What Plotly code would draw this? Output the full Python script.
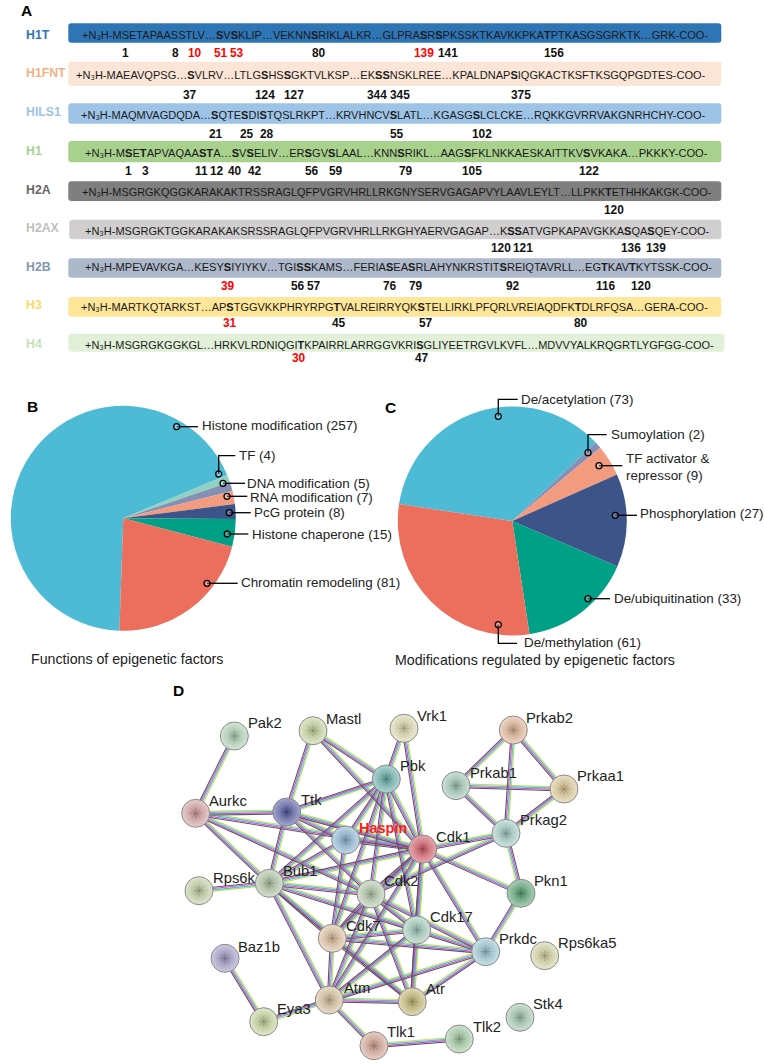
import re
import plotly.graph_objects as go

FONT = "Liberation Sans"
W, H = 764, 1064

# ---------- Panel A data ----------
histones = ["H1T", "H1FNT", "HILS1", "H1", "H2A", "H2AX", "H2B", "H3", "H4"]
sequences = [
    "+N₃H-MSETAPAASSTLV…[S]V[S]KLIP…VEKNN[S]RIKLALKR…GLPRA[S]R[S]PKSSKTKAVKKPKA[T]PTKASGSGRKTK…GRK-COO-",
    "+N₃H-MAEAVQPSG…[S]VLRV…LTLG[S]HS[S]GKTVLKSP…EK[SS]NSKLREE…KPALDNAP[S]IQGKACTKSFTKSGQPGDTES-COO-",
    "+N₃H-MAQMVAGDQDA…[S]QTE[S]DI[S]TQSLRKPT…KRVHNCV[S]LATL…KGASG[S]LCLCKE…RQKKGVRRVAKGNRHCHY-COO-",
    "+N₃H-M[S]E[T]APVAQAA[ST]A…[S]V[S]ELIV…ER[S]GV[S]LAAL…KNN[S]RIKL…AAG[S]FKLNKKAESKAITTKV[S]VKAKA…PKKKY-COO-",
    "+N₃H-MSGRGKQGGKARAKAKTRSSRAGLQFPVGRVHRLLRKGNYSERVGAGAPVYLAAVLEYLT…LLPKK[T]ETHHKAKGK-COO-",
    "+N₃H-MSGRGKTGGKARAKAKSRSSRAGLQFPVGRVHRLLRKGHYAERVGAGAP…K[SS]ATVGPKAPAVGKKA[S]QA[S]QEY-COO-",
    "+N₃H-MPEVAVKGA…KESY[S]IYIYKV…TGI[SS]KAMS…FERIA[S]EA[S]RLAHYNKRSTIT[S]REIQTAVRLL…EG[T]KAV[T]KYTSSK-COO-",
    "+N₃H-MARTKQTARKST…AP[S]TGGVKKPHRYRPG[T]VALREIRRYQK[S]TELLIRKLPFQRLVREIAQDFK[T]DLRFQSA…GERA-COO-",
    "+N₃H-MSGRGKGGKGL…HRKVLRDNIQGI[T]KPAIRRLARRGGVKRI[S]GLIYEETRGVLKVFL…MDVVYALKRQGRTLYGFGG-COO-",
]
bar_colors = ["#2E75B6", "#FBE5D6", "#9DC3E6", "#A9D18E", "#7F7F7F", "#D0CECE", "#ADB9CA", "#FFE699", "#E2F0D9"]
name_colors = ["#2E75B6", "#F4B183", "#9DC3E6", "#A9D18E", "#666666", "#BFBFBF", "#8497B0", "#FFD966", "#C5E0B4"]
bar_x0 = [68.3, 68.3, 68.3, 68.3, 68.3, 69.3, 68.3, 68.3, 68.3]
bar_x1 = [721.3, 721.3, 721.3, 721.3, 721.3, 721.3, 721.3, 721.3, 724.3]
bar_y0 = [23.3, 61.7, 103.3, 141, 181.3, 219.7, 258.3, 297, 333.7]
bar_y1 = [42.7, 86, 123.7, 162.3, 201, 239.3, 277.7, 316.7, 351.7]
name_y = [35, 72.5, 112, 151, 190, 228, 267, 305, 344]
seq_x0 = [82, 75.7, 81, 84.7, 81.7, 84.7, 84.7, 81.3, 84.7]
seq_x1 = [712, 708, 709, 709, 713.7, 714, 716, 711, 716]
seq_y = [35, 74.7, 115, 153, 191.5, 230.5, 267, 307, 344.5]

site_labels = [
    ["1", "8", "10", "51", "53", "80", "139", "141", "156"],
    ["37", "124", "127", "344", "345", "375"],
    ["21", "25", "28", "55", "102"],
    ["1", "3", "11", "12", "40", "42", "56", "59", "79", "105", "122"],
    ["120"],
    ["120", "121", "136", "139"],
    ["39", "56", "57", "76", "79", "92", "116", "120"],
    ["31", "45", "57", "80"],
    ["30", "47"],
]
site_x = [
    [125, 175, 195, 220.5, 237, 319, 423.7, 448, 554],
    [190, 265, 293.5, 377, 399.7, 521],
    [216, 247, 267, 397, 482],
    [128, 145, 201.5, 217, 235, 254.5, 312, 335.5, 406, 472, 589],
    [614],
    [501, 523, 631, 656],
    [228.3, 298, 314, 390, 416, 513, 605.7, 641],
    [230, 339, 426, 581],
    [299, 422],
]
site_y = [52.5, 95, 133.5, 171, 210, 248, 285.7, 322.7, 357.7]
red_sites = {(0, "10"), (0, "51"), (0, "53"), (0, "139"), (6, "39"), (7, "31"), (8, "30")}

# ---------- Panels B, C data ----------
b_labels = ["Histone modification", "TF", "DNA modification", "RNA modification", "PcG protein", "Histone chaperone", "Chromatin remodeling"]
b_values = [257, 4, 5, 7, 8, 15, 81]
b_colors = ["#4DBBD5", "#91D1C2", "#8491B4", "#F39B7F", "#3C5488", "#00A087", "#EC6F5E"]
c_labels = ["De/acetylation", "Sumoylation", "TF activator &<br>repressor", "Phosphorylation", "De/ubiquitination", "De/methylation"]
c_values = [73, 2, 9, 27, 33, 61]
c_colors = ["#4DBBD5", "#8491B4", "#F39B7F", "#3C5488", "#00A087", "#EC6F5E"]

b_text_x = [202.3, 238.7, 247.3, 250.3, 254, 251.7, 241.3]
b_text_y = [425.7, 455.7, 483.7, 497.3, 512.7, 534, 582.7]
b_leaders = [
    [(176.7, 426.7), (198, 426.7)],
    [(218.7, 474), (218.7, 455.7), (235.3, 455.7)],
    [(223, 483.3), (245, 483.3)],
    [(227, 496.3), (247.3, 496.3)],
    [(229.3, 512.7), (250.7, 512.7)],
    [(227.3, 534), (248.3, 534)],
    [(207, 583.3), (237.7, 583.3)],
]
c_text_x = [520.7, 610.7, 626.3, 640.3, 614, 524.3]
c_text_y = [399.3, 434.7, 467, 513.7, 598.3, 642.7]
c_leaders = [
    [(498.3, 416.3), (498.3, 399.3), (517.7, 399.3)],
    [(588, 452.7), (588, 434.7), (606.7, 434.7)],
    [(599, 465.7), (622.3, 465.7)],
    [(615.3, 515.3), (637, 515.3)],
    [(588, 598.7), (610, 598.7)],
    [(498.3, 624.7), (498.3, 643.3), (517, 643.3)],
]

# ---------- Panel D data ----------
node_names = ["Pak2", "Mastl", "Vrk1", "Pbk", "Aurkc", "Ttk", "Haspin", "Cdk1", "Bub1", "Rps6k", "Baz1b", "Cdk7",
              "Atm", "Eya3", "Tlk1", "Cdk2", "Cdk17", "Atr", "Prkdc", "Pkn1", "Rps6ka5", "Stk4", "Tlk2",
              "Prkab2", "Prkab1", "Prkaa1", "Prkag2"]
node_x = [234.3, 313, 404, 386.3, 195.7, 286.7, 345.7, 422.7, 269.3, 199, 225, 332.3,
          329.3, 263.7, 374, 371, 416.7, 412.3, 485.7, 521, 544.7, 520, 459.3,
          513.3, 456, 564, 506]
node_y = [736, 730.7, 728.3, 779, 813.3, 812, 840, 849, 883.3, 890.7, 958.3, 938.3,
          1000, 1021.7, 1045.7, 894, 930, 1001.7, 951.7, 893.3, 955.7, 1017.3, 1039,
          730, 785.7, 789, 833.3]
label_x = [247.7, 326, 417.3, 400, 209, 301, 359.3, 435.7, 283.3, 212.7, 238.3, 345.7,
           344, 277.3, 387.3, 384, 430, 425.7, 499.3, 534.3, 558.3, 533.3, 472.7,
           526.3, 470, 577, 520]
label_y = [723, 719, 715.7, 766, 800.7, 800, 827.7, 836.7, 871, 878.3, 946.7, 926,
           987.7, 1009.3, 1032.3, 880.7, 917.3, 989, 939, 880.7, 943.3, 1004, 1026.7,
           717.7, 773.3, 776, 820]
node_colors = ["#B5D5B8", "#C9D8A2", "#E0DDB0", "#6DB5B0", "#D9A3A3", "#5A5FA8", "#90BAD8", "#D9626E", "#B4C9A8",
               "#C5D4A8", "#A8A0CC", "#E3C3A3", "#D9C4A0", "#C9D89E", "#D9A898", "#B9CEB0", "#A8D0C0", "#C9BC78",
               "#A0CCD8", "#5FA878", "#D8D8A8", "#A8CCB4", "#A8D0A8", "#E5B898", "#A5CCBC", "#E0CC98", "#A8D0C8"]
edges = [
    ("Pak2", "Aurkc"), ("Mastl", "Ttk"), ("Mastl", "Pbk"), ("Mastl", "Cdk1"), ("Vrk1", "Pbk"), ("Vrk1", "Cdk1"),
    ("Pbk", "Ttk"), ("Pbk", "Haspin"), ("Pbk", "Cdk1"), ("Pbk", "Bub1"), ("Pbk", "Cdk2"), ("Pbk", "Cdk17"), ("Pbk", "Cdk7"),
    ("Aurkc", "Ttk"), ("Aurkc", "Cdk1"), ("Aurkc", "Bub1"), ("Aurkc", "Cdk2"),
    ("Ttk", "Haspin"), ("Ttk", "Cdk1"), ("Ttk", "Bub1"), ("Ttk", "Cdk2"),
    ("Haspin", "Cdk1"), ("Haspin", "Bub1"), ("Haspin", "Cdk7"),
    ("Cdk1", "Bub1"), ("Cdk1", "Cdk2"), ("Cdk1", "Cdk7"), ("Cdk1", "Cdk17"), ("Cdk1", "Prkdc"), ("Cdk1", "Pkn1"),
    ("Cdk1", "Atm"), ("Cdk1", "Atr"), ("Cdk1", "Prkag2"),
    ("Bub1", "Rps6k"), ("Bub1", "Cdk2"), ("Bub1", "Cdk7"), ("Bub1", "Cdk17"), ("Bub1", "Atm"), ("Bub1", "Atr"),
    ("Cdk2", "Cdk7"), ("Cdk2", "Cdk17"), ("Cdk2", "Atm"), ("Cdk2", "Atr"), ("Cdk2", "Prkdc"), ("Cdk2", "Prkag2"),
    ("Cdk7", "Cdk17"), ("Cdk7", "Atm"), ("Cdk7", "Atr"), ("Cdk7", "Prkdc"),
    ("Cdk17", "Atr"), ("Cdk17", "Prkdc"), ("Cdk17", "Atm"),
    ("Atm", "Atr"), ("Atm", "Prkdc"), ("Atm", "Eya3"), ("Atm", "Tlk1"), ("Atr", "Prkdc"),
    ("Baz1b", "Eya3"), ("Tlk1", "Tlk2"), ("Pkn1", "Prkdc"), ("Pkn1", "Prkag2"),
    ("Prkab2", "Prkab1"), ("Prkab2", "Prkaa1"), ("Prkab2", "Prkag2"),
    ("Prkab1", "Prkaa1"), ("Prkab1", "Prkag2"), ("Prkaa1", "Prkag2"),
]
edge_colors = ["#C8DC4A", "#45C4DC", "#D84FD0", "#5A5A5A"]
edge_offsets = [-1.95, -0.65, 0.65, 1.95]

# ---------- Helpers ----------
EM = dict(A=.667, B=.667, C=.722, D=.722, E=.667, F=.611, G=.778, H=.722, I=.278, J=.5, K=.667, L=.556, M=.833,
          N=.722, O=.778, P=.667, Q=.778, R=.722, S=.667, T=.611, U=.722, V=.667, W=.944, X=.667, Y=.667, Z=.611)
EM.update({"+": .584, "-": .333, "…": 1.0, "₃": .36})


def em_width(seq):
    return sum(EM[c] for c in seq if c not in "[]")


def markup(seq):
    return re.sub(r"\[([ST]+)\]", r"<b>\1</b>", seq)


def rounded(x0, y0, x1, y1, r):
    return (f"M{x0+r},{y0} L{x1-r},{y0} Q{x1},{y0} {x1},{y0+r} L{x1},{y1-r} Q{x1},{y1} {x1-r},{y1} "
            f"L{x0+r},{y1} Q{x0},{y1} {x0},{y1-r} L{x0},{y0+r} Q{x0},{y0} {x0+r},{y0} Z")


def shade(hex_color, f):
    rgb = [int(hex_color[i:i + 2], 16) for i in (1, 3, 5)]
    if f < 1:
        rgb = [int(c * f) for c in rgb]
    else:
        rgb = [int(c + (255 - c) * (f - 1)) for c in rgb]
    return "#%02X%02X%02X" % tuple(rgb)


annotations = []
shapes = []


def text(x, y, s, size, color="#1A1A1A", anchor="left", bold=False):
    annotations.append(dict(
        x=x - 1 if anchor == "left" else x, y=y, xref="x", yref="y", text=f"<b>{s}</b>" if bold else s, showarrow=False,
        xanchor=anchor, yanchor="middle", align="left", borderpad=0,
        font=dict(family=FONT, size=size, color=color)))


# ---------- Build panel A ----------
for i, name in enumerate(histones):
    shapes.append(dict(type="path", path=rounded(bar_x0[i], bar_y0[i], bar_x1[i], bar_y1[i], 3), xref="x", yref="y",
                       fillcolor=bar_colors[i], line=dict(width=0), layer="below"))
    text(26, name_y[i], name, 12.3, name_colors[i], bold=True)
    size = (seq_x1[i] - seq_x0[i]) / em_width(sequences[i])
    text(seq_x0[i], seq_y[i], markup(sequences[i]), size, "#1A1A1A")
    for lab, x in zip(site_labels[i], site_x[i]):
        col = "#FF0000" if (i, lab) in red_sites else "#111111"
        text(x, site_y[i], lab, 11.9, col, anchor="center", bold=True)

text(20.5, 10.5, "A", 15.5, "#000000", bold=True)
text(26.5, 406, "B", 15.5, "#000000", bold=True)
text(385, 407, "C", 15.5, "#000000", bold=True)
text(173, 690, "D", 15.5, "#000000", bold=True)


# ---------- Pies ----------
def domain(cx, cy, r):
    return dict(x=[(cx - r) / W, (cx + r) / W], y=[1 - (cy + r) / H, 1 - (cy - r) / H])


fig = go.Figure()
fig.add_trace(go.Pie(labels=b_labels, values=b_values, sort=False, direction="clockwise", rotation=182,
                     textinfo="none", hoverinfo="skip", marker=dict(colors=b_colors, line=dict(width=0)),
                     domain=domain(123.3, 518.3, 112.5), showlegend=False))
fig.add_trace(go.Pie(labels=c_labels, values=c_values, sort=False, direction="clockwise", rotation=278.5,
                     textinfo="none", hoverinfo="skip", marker=dict(colors=c_colors, line=dict(width=0)),
                     domain=domain(512.3, 521, 114.5), showlegend=False))


def leader(points):
    path = "M" + " L".join(f"{x},{y}" for x, y in points)
    shapes.append(dict(type="path", path=path, xref="x", yref="y", line=dict(color="#000000", width=1.3), layer="above"))
    cx, cy = points[0]
    shapes.append(dict(type="circle", x0=cx - 3, x1=cx + 3, y0=cy - 3, y1=cy + 3, xref="x", yref="y",
                       fillcolor="rgba(255,255,255,0.25)", line=dict(color="#000000", width=1.3), layer="above"))


for lab, val, x, y, pts in zip(b_labels, b_values, b_text_x, b_text_y, b_leaders):
    text(x, y, f"{lab} ({val})", 13.4, "#222222")
    leader(pts)
for lab, val, x, y, pts in zip(c_labels, c_values, c_text_x, c_text_y, c_leaders):
    text(x, y, f"{lab} ({val})", 13.4, "#222222")
    leader(pts)
text(31.3, 658.7, "Functions of epigenetic factors", 14.2, "#222222")
text(394.7, 660.3, "Modifications regulated by epigenetic factors", 14.2, "#222222")

# ---------- Network ----------
pos = {n: (x, y) for n, x, y in zip(node_names, node_x, node_y)}
for color, off in zip(edge_colors, edge_offsets):
    xs, ys = [], []
    for a, b in edges:
        (x0, y0), (x1, y1) = pos[a], pos[b]
        dx, dy = x1 - x0, y1 - y0
        length = (dx * dx + dy * dy) ** 0.5
        nx, ny = -dy / length * off, dx / length * off
        xs += [x0 + nx, x1 + nx, None]
        ys += [y0 + ny, y1 + ny, None]
    fig.add_trace(go.Scatter(x=xs, y=ys, mode="lines", line=dict(color=color, width=1.1), hoverinfo="skip", showlegend=False))

fig.add_trace(go.Scatter(
    x=node_x, y=node_y, mode="markers", hoverinfo="skip", showlegend=False,
    marker=dict(size=28, color=[shade(c, 1.45) for c in node_colors],
                gradient=dict(type="radial", color=[shade(c, 0.85) for c in node_colors]),
                line=dict(color="#8A8A8A", width=1))))
fig.add_trace(go.Scatter(
    x=node_x, y=node_y, mode="markers", hoverinfo="skip", showlegend=False,
    marker=dict(size=9, symbol="asterisk-open", color=[shade(c, 0.6) for c in node_colors],
                line=dict(color=[shade(c, 0.6) for c in node_colors], width=1), opacity=0.45)))
for n, x, y in zip(node_names, label_x, label_y):
    if n == "Haspin":
        text(x, y, n, 14.5, "#FF1A1A", bold=True)
    else:
        text(x, y, n, 14.8, "#222222")

fig.update_layout(
    width=W, height=H, margin=dict(l=0, r=0, t=0, b=0), paper_bgcolor="white", plot_bgcolor="white",
    showlegend=False, hovermode=False, annotations=annotations, shapes=shapes,
    xaxis=dict(range=[0, W], visible=False, fixedrange=True, domain=[0, 1]),
    yaxis=dict(range=[H, 0], visible=False, fixedrange=True, domain=[0, 1]),
)
fig.write_html("out.html", post_script="document.body.style.margin='0';", config={"displayModeBar": False})
